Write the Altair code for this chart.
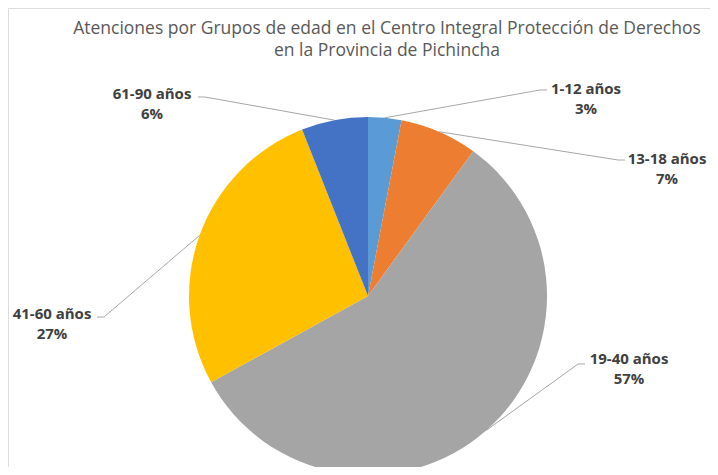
import math
import altair as alt
import pandas as pd

# ---- data ----
categories = ["1-12 años", "13-18 años", "19-40 años", "41-60 años", "61-90 años"]
values = [3, 7, 57, 27, 6]
pct_labels = ["3%", "7%", "57%", "27%", "6%"]
colors = ["#5B9BD5", "#ED7D31", "#A5A5A5", "#FFC000", "#4472C4"]
title_lines = [
    "Atenciones por Grupos de edad en el Centro Integral Protección de Derechos",
    "en la Provincia de Pichincha",
]

# ---- layout (image pixel coordinates) ----
W, H = 702, 459
CX, CY, R = 368, 296, 179
label_center = [(586, 89), (667, 159), (629, 359), (52, 314), (152, 94)]
leader_anchor = [(547, 90), (625, 160), (585, 364), (97, 317), (198, 97)]
title_pos = [(387, 29), (387, 51)]
FONT = "Open Sans"

xs = alt.Scale(domain=[8, 8 + W], range=[0, W], nice=False, zero=False)
ys = alt.Scale(domain=[8, 8 + H], range=[0, H], nice=False, zero=False)

pie_df = pd.DataFrame({"cat": categories, "val": values, "ord": list(range(len(values)))})

pie = alt.Chart(pie_df).mark_arc(outerRadius=R).encode(
    theta=alt.Theta("val:Q", stack=True),
    order=alt.Order("ord:Q"),
    color=alt.Color("cat:N", scale=alt.Scale(domain=categories, range=colors), legend=None),
    x=alt.value(CX - 8),
    y=alt.value(CY - 8),
)

# leader lines: from slice mid-angle on the rim to the label anchor
total = sum(values)
rows = []
cum = 0
for i, v in enumerate(values):
    mid = (cum + v / 2) / total * 2 * math.pi
    cum += v
    ex = CX + R * math.sin(mid)
    ey = CY - R * math.cos(mid)
    ax, ay = leader_anchor[i]
    step = 7 if ex > ax else -7
    pts = [(ex, ey), (ax + step, ay), (ax, ay)]
    for k, (px, py) in enumerate(pts):
        rows.append({"cat": categories[i], "k": k, "px": px, "py": py})
lead_df = pd.DataFrame(rows)

leaders = alt.Chart(lead_df).mark_line(color="#A6A6A6", strokeWidth=1).encode(
    x=alt.X("px:Q", scale=xs, axis=None),
    y=alt.Y("py:Q", scale=ys, axis=None),
    detail="cat:N",
    order="k:Q",
)

lab_df = pd.DataFrame({
    "cat": categories,
    "pct": pct_labels,
    "lx": [p[0] for p in label_center],
    "ly": [p[1] for p in label_center],
    "ly2": [p[1] + 20 for p in label_center],
})

lab_style = dict(font=FONT, fontSize=15, fontWeight="bold", color="#404040",
                 align="center", baseline="middle")
lab1 = alt.Chart(lab_df).mark_text(**lab_style).encode(
    x=alt.X("lx:Q", scale=xs, axis=None), y=alt.Y("ly:Q", scale=ys, axis=None), text="cat:N")
lab2 = alt.Chart(lab_df).mark_text(**lab_style).encode(
    x=alt.X("lx:Q", scale=xs, axis=None), y=alt.Y("ly2:Q", scale=ys, axis=None), text="pct:N")

title_df = pd.DataFrame({
    "t": title_lines,
    "tx": [p[0] for p in title_pos],
    "ty": [p[1] for p in title_pos],
})
title = alt.Chart(title_df).mark_text(font=FONT, fontSize=17.5, color="#595959",
                                      align="center", baseline="middle").encode(
    x=alt.X("tx:Q", scale=xs, axis=None), y=alt.Y("ty:Q", scale=ys, axis=None), text="t:N")

chart = alt.layer(pie, leaders, lab1, lab2, title).properties(
    width=W, height=H, padding=0, autosize=alt.AutoSizeParams(type="none")
).configure_view(strokeWidth=0).configure(background="white")

chart.save("out.html", embed_options={"renderer": "svg", "actions": False})
